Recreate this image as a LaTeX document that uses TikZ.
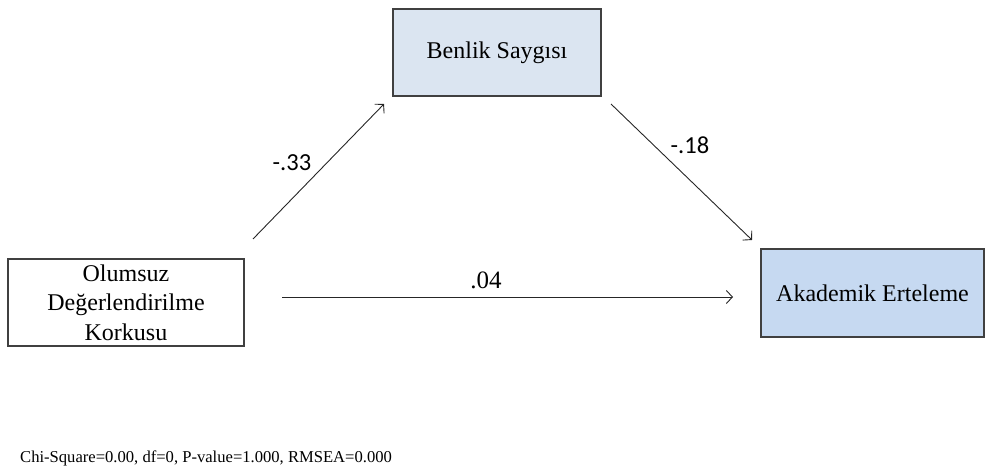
\documentclass[tikz,border=0pt]{standalone}
\usepackage{fontspec}
\setmainfont{Liberation Serif}
\newfontfamily\lblfont{Carlito}
\usetikzlibrary{arrows.meta}
\definecolor{boxline}{HTML}{404040}
\definecolor{paleblue}{HTML}{DBE5F1}
\definecolor{midblue}{HTML}{C6D9F1}
\definecolor{arrowcol}{HTML}{262626}
\begin{document}
\begin{tikzpicture}[x=1pt,y=1pt,
  box/.style={draw=boxline,line width=1.2pt,inner sep=0pt,font=\fontsize{24}{29.5}\selectfont,align=center},
  conn/.style={draw=arrowcol,line width=0.9pt,-{Straight Barb[length=6pt,width=13pt]}},
  lbl/.style={font=\lblfont\fontsize{24.5}{26}\selectfont,inner sep=0pt},
  lbls/.style={font=\fontsize{25}{27}\selectfont,inner sep=0pt}]
\useasboundingbox (0,0) rectangle (985,469);
\node[box,fill=paleblue,minimum width=208pt,minimum height=87pt] (bs) at (497,416.5) {Benlik Saygısı};
\node[box,fill=white,minimum width=236pt,minimum height=87pt] (odk) at (126,166.5) {Olumsuz\\Değerlendirilme\\Korkusu};
\node[box,fill=midblue,minimum width=223pt,minimum height=88pt] (ae) at (872.5,176) {Akademik Erteleme};
\coordinate (a1s) at (253,230);
\coordinate (a1e) at (384,365);
\coordinate (a2s) at (611,365);
\coordinate (a2e) at (752,229);
\coordinate (a3s) at (282,172);
\coordinate (a3e) at (733,172);
\draw[conn] (a1s) -- (a1e);
\draw[conn] (a2s) -- (a2e);
\draw[conn] (a3s) -- (a3e);
\node[lbl] (l1) at (292,306) {-.33};
\node[lbl] (l2) at (690,324) {-.18};
\node[lbls] (l3) at (486,189) {.04};
\node[anchor=west,inner sep=0pt,font=\fontsize{16.6}{18}\selectfont] (fit) at (20,11) {Chi-Square=0.00, df=0, P-value=1.000, RMSEA=0.000};
\end{tikzpicture}
\end{document}
